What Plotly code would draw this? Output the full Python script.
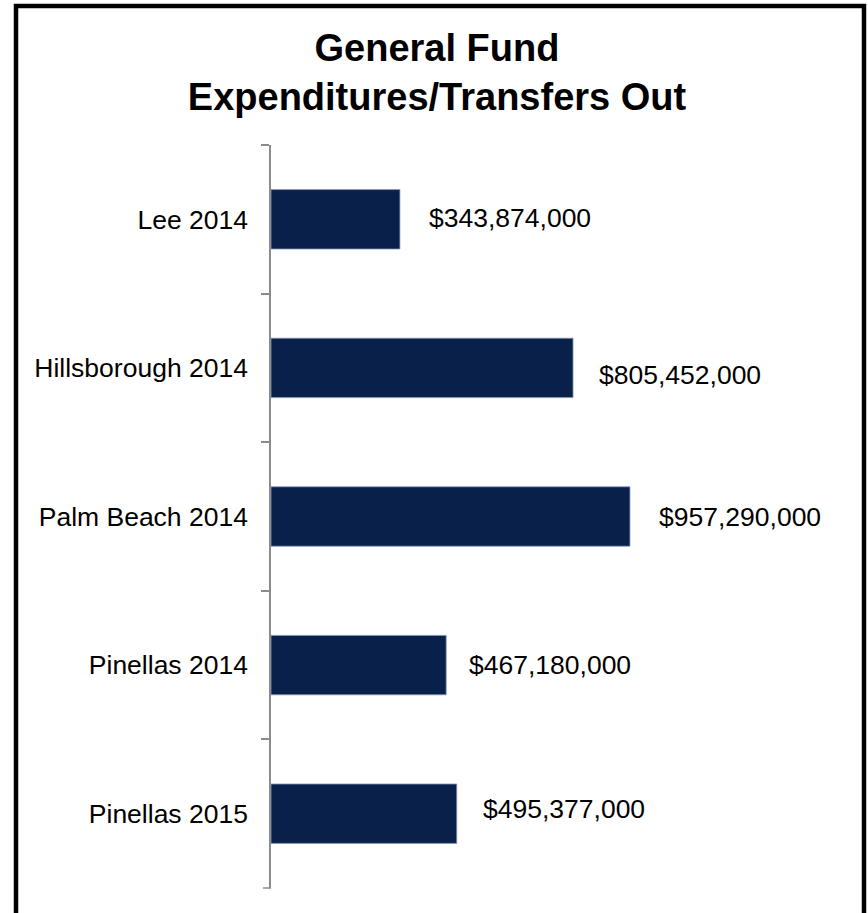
import plotly.graph_objects as go

# General Fund expenditures / transfers out by county and fiscal year
counties = ["Lee 2014", "Hillsborough 2014", "Palm Beach 2014", "Pinellas 2014", "Pinellas 2015"]
expenditures = [343874000, 805452000, 957290000, 467180000, 495377000]
value_labels = ["$343,874,000", "$805,452,000", "$957,290,000", "$467,180,000", "$495,377,000"]

# hand-placed offsets of the value labels from the bar ends (px)
label_nudge_x = [27, 24, 27, 21, 24]
label_nudge_y = [1, -7, 0, 0, 5]

W, H = 868, 913
L, R, T, B = 271, 147, 145, 25
BAR = "#08204a"
AXIS = "#8c8c8c"
FONT = "Liberation Sans, Arial, sans-serif"

fig = go.Figure(
    go.Bar(
        x=expenditures,
        y=counties,
        orientation="h",
        marker=dict(color=BAR, line=dict(color="#8a9abb", width=0.8)),
        hoverinfo="skip",
    )
)

for c, v, t, dx, dy in zip(counties, expenditures, value_labels, label_nudge_x, label_nudge_y):
    fig.add_annotation(
        x=v, y=c, xref="x", yref="y", text=t, showarrow=False,
        xanchor="left", yanchor="middle", xshift=dx, yshift=dy,
        font=dict(family=FONT, size=26.5, color="#000000"),
    )

# pixel -> paper coordinate helpers for the frame and the closing tick
pw, ph = W - L - R, H - T - B
def px_x(p):
    return (p - L) / pw
def px_y(p):
    return 1 - (p - T) / ph

# outer frame around the whole chart
fig.add_shape(
    type="rect", xref="paper", yref="paper",
    x0=px_x(16), x1=px_x(864), y0=px_y(930), y1=px_y(6),
    line=dict(color="#000000", width=4.5), fillcolor="rgba(0,0,0,0)", layer="above",
)

# closing tick at the bottom end of the category axis
fig.add_shape(
    type="line", xref="paper", yref="paper",
    x0=px_x(263), x1=0, y0=0, y1=0,
    line=dict(color=AXIS, width=1.5),
)

fig.update_layout(
    width=W, height=H,
    margin=dict(l=L, r=R, t=T, b=B),
    paper_bgcolor="white", plot_bgcolor="white",
    bargap=0.6,
    showlegend=False,
    title=dict(
        text="<b>General Fund<br>Expenditures/Transfers Out</b>",
        x=437 / W, xanchor="center", xref="container",
        y=1 - 61 / H, yanchor="top", yref="container",
        font=dict(family=FONT, size=38, color="#000000"),
    ),
    xaxis=dict(
        range=[0, 1.2e9], visible=False, fixedrange=True,
    ),
    yaxis=dict(
        autorange="reversed",
        showline=True, linecolor=AXIS, linewidth=1.5,
        ticks="outside", tickson="boundaries", ticklen=8, tickwidth=1.5, tickcolor=AXIS,
        showgrid=False, zeroline=False,
        ticklabelstandoff=16,
        tickfont=dict(family=FONT, size=26.5, color="#000000"),
    ),
)

fig.write_html("out.html")
